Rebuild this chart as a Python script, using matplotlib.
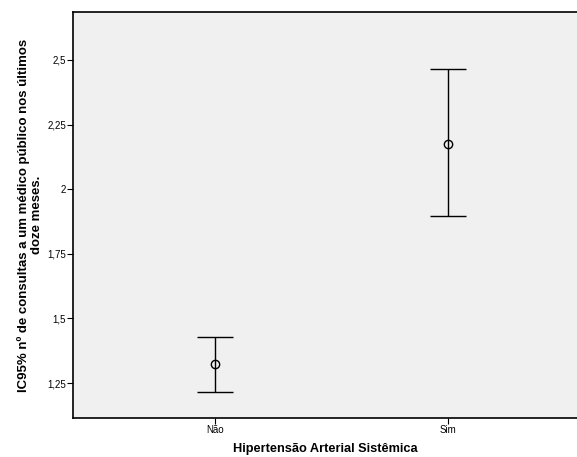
import matplotlib.pyplot as plt
from matplotlib.ticker import FuncFormatter

plt.rcParams['font.family'] = ['Liberation Sans', 'DejaVu Sans']

categorias = ['Não', 'Sim']
media = [1.322, 2.176]
ic_inf = [1.215, 1.897]
ic_sup = [1.428, 2.463]
yticks = [1.25, 1.5, 1.75, 2.0, 2.25, 2.5]

fig = plt.figure(figsize=(5.77, 4.57), dpi=100)
ax = fig.add_axes([0.1265, 0.0853, 0.8735, 0.8884])
ax.set_facecolor('#f0f0f0')

x = list(range(len(categorias)))
err = [[m - lo for m, lo in zip(media, ic_inf)], [hi - m for m, hi in zip(media, ic_sup)]]
ax.errorbar(x, media, yerr=err, fmt='o', mfc='none', mec='black', ms=6, mew=1,
            ecolor='black', elinewidth=1, capsize=13, capthick=1.2)

ax.set_xlim(-0.612, 1.556)
ax.set_ylim(1.115, 2.685)
ax.set_xticks(x)
ax.set_xticklabels(categorias)
ax.set_yticks(yticks)
ax.yaxis.set_major_formatter(FuncFormatter(lambda v, p: ('%g' % v).replace('.', ',')))
ax.tick_params(labelsize=7, length=4, width=0.8, direction='out', pad=1)

for s in ['left', 'bottom', 'top']:
    ax.spines[s].set_linewidth(1.2)
ax.spines['right'].set_visible(False)

ax.set_xlabel('Hipertensão Arterial Sistêmica', fontsize=9.2, fontweight='bold', labelpad=6)
ax.set_ylabel('IC95% nº de consultas a um médico público nos últimos\ndoze meses.',
              fontsize=9.5, fontweight='bold', labelpad=3, linespacing=1.1)

fig.savefig('out.png', dpi=100)
